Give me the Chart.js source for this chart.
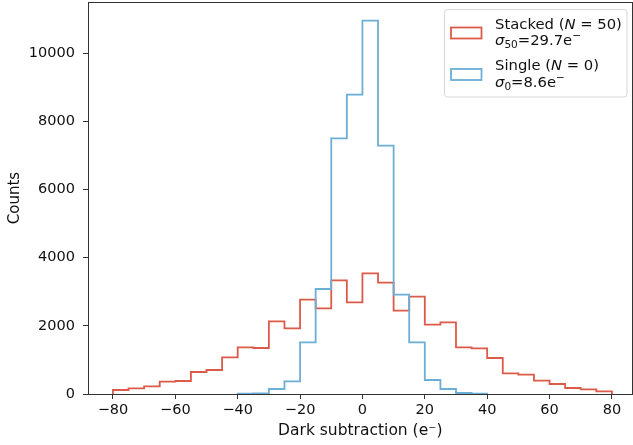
<!DOCTYPE html>
<html>
<head>
<meta charset="utf-8">
<script src="https://cdn.jsdelivr.net/npm/chart.js@4.4.1/dist/chart.umd.min.js"></script>
<style>
  html, body { margin: 0; padding: 0; background: #fff; }
  #histChart { display: block; }
</style>
</head>
<body>
<canvas id="histChart" width="633" height="445"></canvas>
<script>
// ── DATA ─────────────────────────────────────────────
// bin edges, 5 e- wide
const stackedEdges = [-80, -75, -70, -65, -60, -55, -50, -45, -40, -35, -30, -25, -20, -15, -10, -5,
                      0, 5, 10, 15, 20, 25, 30, 35, 40, 45, 50, 55, 60, 65, 70, 75, 80];
const stackedCounts = [117, 166, 225, 362, 381, 645, 704, 1075, 1369, 1349, 2131, 1926, 2766, 2512, 3333, 2688,
                       3539, 3265, 2444, 2854, 2033, 2102, 1369, 1339, 1056, 606, 567, 391, 293, 176, 137, 78];

const singleEdges = [-40, -35, -30, -25, -20, -15, -10, -5, 0, 5, 10, 15, 20, 25, 30, 35, 40];
const singleCounts = [10, 20, 147, 371, 1515, 3079, 7498, 8778, 10948, 7283, 2913, 1515, 411, 147, 29, 10];

const xTicks = [-80, -60, -40, -20, 0, 20, 40, 60, 80];
const yTicks = [0, 2000, 4000, 6000, 8000, 10000];

const legendEntries = [
    { color: '#dc5a48', lines: [
        [{ t: 'Stacked (' }, { t: 'N', i: true }, { t: ' = 50)' }],
        [{ t: 'σ', i: true }, { t: '50', sub: true }, { t: '=29.7e' }, { t: '−', sup: true }]
    ]},
    { color: '#6baed6', lines: [
        [{ t: 'Single (' }, { t: 'N', i: true }, { t: ' = 0)' }],
        [{ t: 'σ', i: true }, { t: '0', sub: true }, { t: '=8.6e' }, { t: '−', sup: true }]
    ]}
];

// step outline like matplotlib histtype='step'
// each count sits on its bin's left edge; stepped:'before' carries it to the next edge
function stepPoints(edges, counts) {
    const last = edges.length - 1;
    const pts = [{ x: edges[0], y: 0 }];
    counts.forEach((c, i) => pts.push({ x: edges[i], y: c }));
    pts.push({ x: edges[last], y: counts[counts.length - 1] });
    pts.push({ x: edges[last], y: 0 });
    return pts;
}

const FONT = '"DejaVu Sans", sans-serif';
Chart.defaults.font.family = FONT;
Chart.defaults.color = '#111';

const noPad = s => { s.paddingTop = 0; s.paddingBottom = 0; s.paddingLeft = 0; s.paddingRight = 0; };

// ── FRAME + LEGEND ───────────────────────────────────
const framePlugin = {
    id: 'frame',
    afterDraw(chart) {
        const { ctx, chartArea: a } = chart;
        ctx.save();
        ctx.strokeStyle = '#333';
        ctx.lineWidth = 1;
        ctx.strokeRect(Math.round(a.left) + 0.5, Math.round(a.top) + 0.5,
                       Math.round(a.right - a.left) - 1, Math.round(a.bottom - a.top));

        // legend box
        const bx = 444.5, by = 9.5, bw = 182.5, bh = 87.5, r = 3;
        ctx.beginPath();
        ctx.moveTo(bx + r, by);
        ctx.arcTo(bx + bw, by, bx + bw, by + bh, r);
        ctx.arcTo(bx + bw, by + bh, bx, by + bh, r);
        ctx.arcTo(bx, by + bh, bx, by, r);
        ctx.arcTo(bx, by, bx + bw, by, r);
        ctx.closePath();
        ctx.fillStyle = 'rgba(255,255,255,0.8)';
        ctx.fill();
        ctx.strokeStyle = '#d6d6d6';
        ctx.stroke();

        const baselines = [[28.5, 45], [70, 86.5]];
        const handleTop = [27.5, 69];
        legendEntries.forEach((entry, k) => {
            ctx.strokeStyle = entry.color;
            ctx.lineWidth = 1.8;
            ctx.strokeRect(451, handleTop[k], 30.5, 11);
            entry.lines.forEach((runs, j) => {
                let x = 495;
                const y = baselines[k][j];
                ctx.fillStyle = '#111';
                ctx.textBaseline = 'alphabetic';
                runs.forEach(run => {
                    const small = run.sub || run.sup;
                    ctx.font = (run.i ? 'italic ' : '') + (small ? 10.5 : 14.8) + 'px ' + FONT;
                    const dy = run.sub ? 3 : run.sup ? -6 : 0;
                    ctx.fillText(run.t, x, y + dy);
                    x += ctx.measureText(run.t).width;
                });
            });
        });
        ctx.restore();
    }
};

// ── RENDER CHART ─────────────────────────────────────
new Chart(document.getElementById('histChart'), {
    type: 'line',
    data: {
        datasets: [
            {
                label: 'Stacked (N = 50)',
                data: stepPoints(stackedEdges, stackedCounts),
                borderColor: '#dc5a48',
                borderWidth: 1.8,
                stepped: 'before',
                pointRadius: 0,
                fill: false,
                order: 2
            },
            {
                label: 'Single (N = 0)',
                data: stepPoints(singleEdges, singleCounts),
                borderColor: '#6baed6',
                borderWidth: 1.8,
                stepped: 'before',
                pointRadius: 0,
                fill: false,
                order: 1
            }
        ]
    },
    options: {
        responsive: false,
        animation: false,
        layout: { padding: { top: 2, right: 0.5, left: 0, bottom: 0 } },
        plugins: {
            legend: { display: false },
            tooltip: { enabled: false }
        },
        scales: {
            x: {
                type: 'linear',
                min: -88,
                max: 86.6,
                afterBuildTicks: s => { s.ticks = xTicks.map(v => ({ value: v })); },
                afterFit: s => { s.height = 51; noPad(s); },
                grid: { drawOnChartArea: false, drawTicks: true, tickLength: 5, tickColor: '#333', tickWidth: 1 },
                border: { display: false },
                ticks: {
                    padding: 3,
                    maxRotation: 0,
                    autoSkip: false,
                    font: { size: 14.5 },
                    callback: v => (v < 0 ? '−' + Math.abs(v) : String(v))
                },
                title: {
                    display: true,
                    text: 'Dark subtraction (e⁻)',
                    font: { size: 15.5 },
                    padding: { top: 0, bottom: 5 }
                }
            },
            y: {
                min: 0,
                max: 11497,
                afterBuildTicks: s => { s.ticks = yTicks.map(v => ({ value: v })); },
                afterFit: s => { s.width = 88; noPad(s); },
                grid: { drawOnChartArea: false, drawTicks: true, tickLength: 5, tickColor: '#333', tickWidth: 1 },
                border: { display: false },
                ticks: {
                    padding: 8,
                    autoSkip: false,
                    font: { size: 14.5 },
                    callback: v => String(v)
                },
                title: {
                    display: true,
                    text: 'Counts',
                    font: { size: 15 },
                    padding: { top: 6, bottom: 0 }
                }
            }
        }
    },
    plugins: [framePlugin]
});
</script>
</body>
</html>
